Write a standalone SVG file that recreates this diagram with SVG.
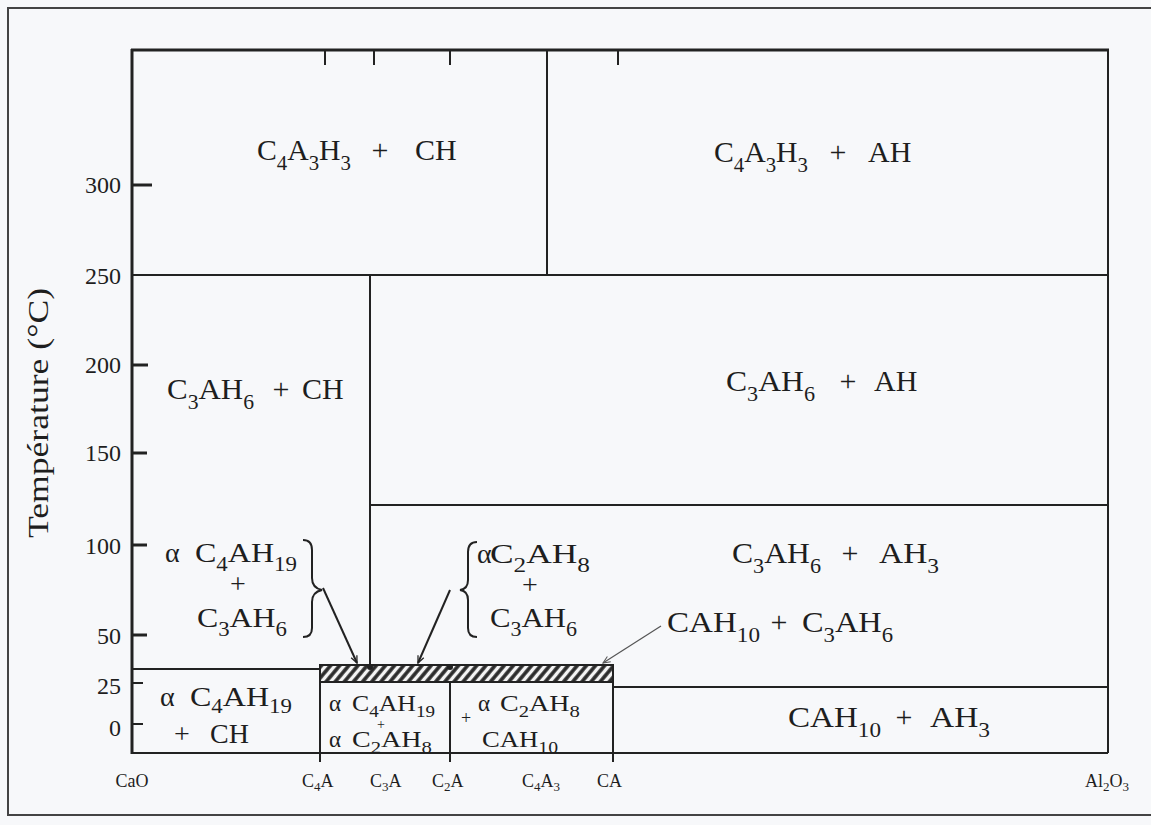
<svg xmlns="http://www.w3.org/2000/svg" width="1151" height="825" viewBox="0 0 1151 825">
<defs>
<style>
text{font-family:"Liberation Serif","Times New Roman",serif;fill:#1e1e1e}
.L{font-size:30px}
.L .s{font-size:21px}
.M{font-size:28px}
.M .s{font-size:20px}
.S{font-size:23px}
.S .s{font-size:17px}
.B{font-size:18px}
.B .s{font-size:13px}
.tk{font-size:24px;text-anchor:end}
.ln{stroke:#222;stroke-width:2;fill:none}
.ax{stroke:#222;stroke-width:3;fill:none}
.mid{text-anchor:middle}
</style>
<pattern id="hatch" width="7" height="7" patternUnits="userSpaceOnUse" patternTransform="rotate(40)">
<rect width="7" height="7" fill="#f4f4f4"/>
<line x1="2" y1="0" x2="2" y2="7" stroke="#2a2a2a" stroke-width="3.6"/>
</pattern>
<marker id="ah" viewBox="0 0 10 10" refX="9" refY="5" markerWidth="9" markerHeight="9" markerUnits="userSpaceOnUse" orient="auto">
<path d="M1,1.5 L9,5 L1,8.5" fill="none" stroke="#222" stroke-width="1.4"/>
</marker>
<marker id="ah2" viewBox="0 0 10 10" refX="9" refY="5" markerWidth="9" markerHeight="9" markerUnits="userSpaceOnUse" orient="auto">
<path d="M1,1.5 L9,5 L1,8.5" fill="none" stroke="#555" stroke-width="1.2"/>
</marker>
</defs>
<rect width="1151" height="825" fill="#f7f8fa"/>
<rect x="8" y="8" width="1160" height="807" fill="none" stroke="#444" stroke-width="2"/>

<g id="frame">
<line class="ax" x1="132" y1="49" x2="132" y2="754"/>
<line class="ax" x1="131" y1="50" x2="1109" y2="50"/>
<line class="ln" x1="1108" y1="50" x2="1108" y2="753"/>
<line class="ln" x1="132" y1="753" x2="1108" y2="753"/>
<line class="ln" x1="132" y1="275" x2="1108" y2="275"/>
<line class="ln" x1="547" y1="50" x2="547" y2="275"/>
<line class="ln" x1="370" y1="275" x2="370" y2="666"/>
<line class="ln" x1="370" y1="505" x2="1108" y2="505"/>
<line class="ln" x1="132" y1="669" x2="320" y2="669"/>
<rect x="320" y="665" width="293" height="17" fill="url(#hatch)" stroke="#222" stroke-width="2"/>
<line class="ln" x1="320" y1="665" x2="320" y2="762"/>
<line class="ln" x1="450" y1="682" x2="450" y2="762"/>
<line class="ln" x1="613" y1="665" x2="613" y2="762"/>
<line class="ln" x1="613" y1="687" x2="1108" y2="687"/>
<circle cx="370" cy="667" r="3" fill="#222"/>
<circle cx="450" cy="667" r="3" fill="#222"/>
</g>

<g id="axis-ticks">
<line class="ax" x1="132" y1="185" x2="152" y2="185"/>
<line class="ax" x1="132" y1="365" x2="148" y2="365"/>
<line class="ax" x1="132" y1="453" x2="147" y2="453"/>
<line class="ax" x1="132" y1="545" x2="147" y2="545"/>
<line class="ax" x1="132" y1="635" x2="147" y2="635"/>
<line class="ln" x1="132" y1="683" x2="143" y2="683"/>
<line class="ln" x1="132" y1="724" x2="143" y2="724"/>
<line class="ln" x1="325" y1="50" x2="325" y2="65"/>
<line class="ln" x1="374" y1="50" x2="374" y2="65"/>
<line class="ln" x1="450" y1="50" x2="450" y2="65"/>
<line class="ln" x1="618" y1="50" x2="618" y2="65"/>
<text class="tk" x="121" y="193">300</text>
<text class="tk" x="121" y="284">250</text>
<text class="tk" x="121" y="373">200</text>
<text class="tk" x="121" y="461">150</text>
<text class="tk" x="121" y="554">100</text>
<text class="tk" x="121" y="644">50</text>
<text class="tk" x="121" y="694">25</text>
<text class="tk" x="121" y="736">0</text>
<text x="0" y="0" font-size="30" text-anchor="middle" textLength="250" lengthAdjust="spacingAndGlyphs" transform="translate(48,413) rotate(-90)">Température (°C)</text>
</g>

<g id="composition-labels" class="B">
<text class="B mid" x="132" y="787">CaO</text>
<text class="B" x="302" y="787">C<tspan class="s" dy="4">4</tspan><tspan dy="-4">A</tspan></text>
<text class="B" x="370" y="787">C<tspan class="s" dy="4">3</tspan><tspan dy="-4">A</tspan></text>
<text class="B" x="432" y="787">C<tspan class="s" dy="4">2</tspan><tspan dy="-4">A</tspan></text>
<text class="B" x="522" y="787">C<tspan class="s" dy="4">4</tspan><tspan dy="-4">A</tspan><tspan class="s" dy="4">3</tspan></text>
<text class="B" x="597" y="787">CA</text>
<text class="B" x="1085" y="787">Al<tspan class="s" dy="4">2</tspan><tspan dy="-4">O</tspan><tspan class="s" dy="4">3</tspan></text>
</g>

<g id="region-C4A3H3-CH">
<text class="L" x="257" y="160" textLength="94" lengthAdjust="spacingAndGlyphs">C<tspan class="s" dy="10">4</tspan><tspan dy="-10">A</tspan><tspan class="s" dy="10">3</tspan><tspan dy="-10">H</tspan><tspan class="s" dy="10">3</tspan></text>
<text class="L mid" x="380" y="160">+</text>
<text class="L" x="415" y="160">CH</text>
</g>

<g id="region-C4A3H3-AH">
<text class="L" x="714" y="162" textLength="94" lengthAdjust="spacingAndGlyphs">C<tspan class="s" dy="10">4</tspan><tspan dy="-10">A</tspan><tspan class="s" dy="10">3</tspan><tspan dy="-10">H</tspan><tspan class="s" dy="10">3</tspan></text>
<text class="L mid" x="838" y="162">+</text>
<text class="L" x="868" y="162">AH</text>
</g>

<g id="region-C3AH6-CH">
<text class="L" x="167" y="399" textLength="87" lengthAdjust="spacingAndGlyphs">C<tspan class="s" dy="10">3</tspan><tspan dy="-10">AH</tspan><tspan class="s" dy="10">6</tspan></text>
<text class="L mid" x="281" y="399">+</text>
<text class="L" x="302" y="399">CH</text>
</g>

<g id="region-C3AH6-AH">
<text class="L" x="726" y="391" textLength="89" lengthAdjust="spacingAndGlyphs">C<tspan class="s" dy="10">3</tspan><tspan dy="-10">AH</tspan><tspan class="s" dy="10">6</tspan></text>
<text class="L mid" x="848" y="391">+</text>
<text class="L" x="874" y="391">AH</text>
</g>

<g id="region-C3AH6-AH3">
<text class="L" x="732" y="563" textLength="89" lengthAdjust="spacingAndGlyphs">C<tspan class="s" dy="10">3</tspan><tspan dy="-10">AH</tspan><tspan class="s" dy="10">6</tspan></text>
<text class="L mid" x="850" y="563">+</text>
<text class="L" x="879" y="563" textLength="60" lengthAdjust="spacingAndGlyphs">AH<tspan class="s" dy="10">3</tspan></text>
</g>

<g id="label-CAH10-C3AH6">
<text class="L" x="667" y="632" textLength="93" lengthAdjust="spacingAndGlyphs">CAH<tspan class="s" dy="10">10</tspan></text>
<text class="L mid" x="779" y="632">+</text>
<text class="L" x="802" y="632" textLength="91" lengthAdjust="spacingAndGlyphs">C<tspan class="s" dy="10">3</tspan><tspan dy="-10">AH</tspan><tspan class="s" dy="10">6</tspan></text>
</g>

<g id="region-CAH10-AH3">
<text class="L" x="788" y="727" textLength="93" lengthAdjust="spacingAndGlyphs">CAH<tspan class="s" dy="10">10</tspan></text>
<text class="L mid" x="904" y="727">+</text>
<text class="L" x="930" y="727" textLength="60" lengthAdjust="spacingAndGlyphs">AH<tspan class="s" dy="10">3</tspan></text>
</g>

<g id="label-C4AH19-C3AH6">
<text class="M" x="165" y="562">α</text>
<text class="M" x="195" y="562" textLength="102" lengthAdjust="spacingAndGlyphs">C<tspan class="s" dy="9">4</tspan><tspan dy="-9">AH</tspan><tspan class="s" dy="9">19</tspan></text>
<text class="M mid" x="238" y="593">+</text>
<text class="M" x="197" y="627" textLength="90" lengthAdjust="spacingAndGlyphs">C<tspan class="s" dy="9">3</tspan><tspan dy="-9">AH</tspan><tspan class="s" dy="9">6</tspan></text>
<path class="ln" d="M303,540 Q312,540 312,550 L312,578 Q312,588 322,590 Q312,592 312,602 L312,628 Q312,637 303,637" stroke-width="2.2"/>
</g>

<g id="label-C2AH8-C3AH6">
<text class="M" x="477" y="563">α</text>
<text class="M" x="490" y="563" textLength="100" lengthAdjust="spacingAndGlyphs">C<tspan class="s" dy="9">2</tspan><tspan dy="-9">AH</tspan><tspan class="s" dy="9">8</tspan></text>
<text class="M mid" x="530" y="594">+</text>
<text class="M" x="490" y="627" textLength="87" lengthAdjust="spacingAndGlyphs">C<tspan class="s" dy="9">3</tspan><tspan dy="-9">AH</tspan><tspan class="s" dy="9">6</tspan></text>
<path class="ln" d="M477,542 Q468,542 468,552 L468,580 Q468,589 460,590 Q468,591 468,600 L468,628 Q468,637 477,637" stroke-width="2.2"/>
</g>

<g id="region-C4AH19-CH">
<text class="M" x="160" y="706">α</text>
<text class="M" x="190" y="706" textLength="102" lengthAdjust="spacingAndGlyphs">C<tspan class="s" dy="7">4</tspan><tspan dy="-7">AH</tspan><tspan class="s" dy="7">19</tspan></text>
<text class="M mid" x="182" y="743">+</text>
<text class="M" x="210" y="743">CH</text>
</g>

<g id="region-C4AH19-C2AH8">
<text class="S" x="329" y="711">α</text>
<text class="S" x="352" y="711" textLength="83" lengthAdjust="spacingAndGlyphs">C<tspan class="s" dy="6">4</tspan><tspan dy="-6">AH</tspan><tspan class="s" dy="6">19</tspan></text>
<text class="mid" x="381" y="729" font-size="14">+</text>
<text class="S" x="329" y="747">α</text>
<text class="S" x="352" y="747" textLength="80" lengthAdjust="spacingAndGlyphs">C<tspan class="s" dy="6">2</tspan><tspan dy="-6">AH</tspan><tspan class="s" dy="6">8</tspan></text>
</g>

<g id="region-C2AH8-CAH10">
<text class="mid" x="466" y="724" font-size="18">+</text>
<text class="S" x="478" y="711">α</text>
<text class="S" x="500" y="711" textLength="80" lengthAdjust="spacingAndGlyphs">C<tspan class="s" dy="6">2</tspan><tspan dy="-6">AH</tspan><tspan class="s" dy="6">8</tspan></text>
<text class="S" x="482" y="747" textLength="76" lengthAdjust="spacingAndGlyphs">CAH<tspan class="s" dy="6">10</tspan></text>
</g>

<g id="connectors">
<line x1="323" y1="588" x2="357" y2="663" stroke="#222" stroke-width="2" marker-end="url(#ah)"/>
<line x1="450" y1="590" x2="418" y2="663" stroke="#222" stroke-width="2" marker-end="url(#ah)"/>
<line x1="661" y1="626" x2="603" y2="663" stroke="#555" stroke-width="1.2" marker-end="url(#ah2)"/>
</g>
</svg>
